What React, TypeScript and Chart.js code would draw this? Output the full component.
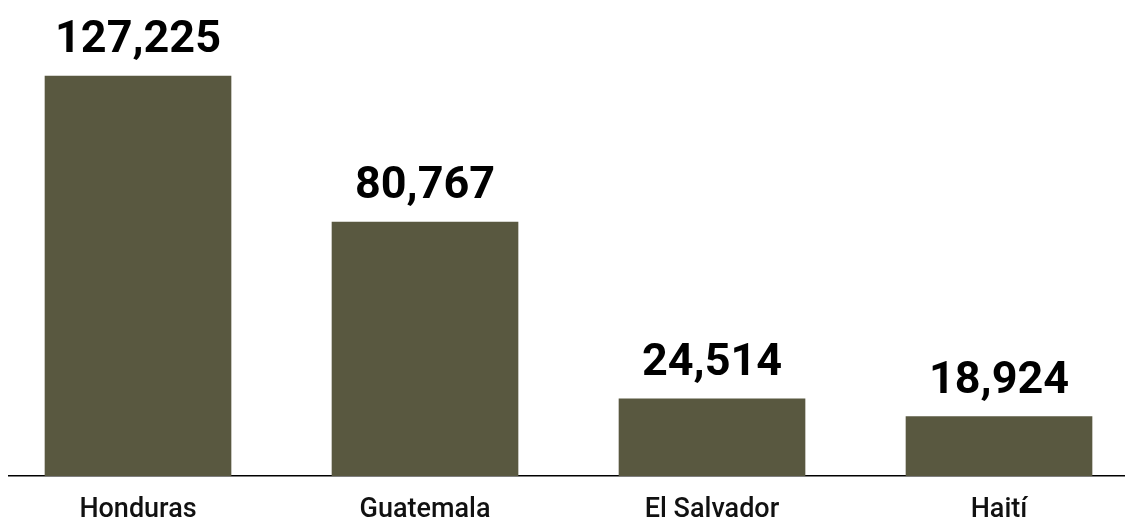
import React, { useEffect, useRef } from "react";
import { Chart, registerables } from "chart.js";

Chart.register(...registerables);

const categories: string[] = ["Honduras", "Guatemala", "El Salvador", "Haití"];
const values: number[] = [127225, 80767, 24514, 18924];

const BAR_COLOR = "#595840";

const valueLabels = {
  id: "valueLabels",
  afterDatasetsDraw(chart: any) {
    const ctx = chart.ctx;
    const meta = chart.getDatasetMeta(0);
    ctx.save();
    ctx.font = "700 45px Roboto";
    ctx.fillStyle = "#000";
    ctx.textAlign = "center";
    ctx.textBaseline = "alphabetic";
    meta.data.forEach((bar: any, i: number) => {
      ctx.fillText(values[i].toLocaleString("en-US"), bar.x, bar.y - 24);
    });
    ctx.restore();
  },
};

export default function App() {
  const ref = useRef<HTMLCanvasElement | null>(null);
  useEffect(() => {
    if (!ref.current) return;
    const chart = new Chart(ref.current, {
      type: "bar",
      data: {
        datasets: [
          {
            data: categories.map((c, i) => ({ x: i, y: values[i] })),
            backgroundColor: BAR_COLOR,
            barThickness: 186,
            borderWidth: 0,
          },
        ],
      },
      options: {
        animation: false,
        responsive: false,
        maintainAspectRatio: false,
        layout: { padding: { left: 9, right: 0, top: 0, bottom: 0 } },
        plugins: { legend: { display: false }, tooltip: { enabled: false } },
        scales: {
          x: {
            type: "linear",
            offset: false,
            min: -0.4495,
            max: 3.439,
            grid: { display: false, drawTicks: false, offset: false },
            border: { display: true, color: "#000", width: 1.5 },
            afterBuildTicks: (scale: any) => {
              scale.ticks = categories.map((_, i) => ({ value: i }));
            },
            afterFit: (scale: any) => {
              scale.height = 44;
            },
            ticks: {
              autoSkip: false,
              maxRotation: 0,
              padding: 18,
              color: "#111",
              font: { family: "Roboto", size: 27, weight: "500" },
              callback: (v: any) => categories[v as number] ?? "",
            },
          },
          y: {
            display: false,
            min: 0,
            max: 151400,
          },
        },
      },
      plugins: [valueLabels],
    });
    return () => chart.destroy();
  }, []);
  return (
    <div style={{ position: "fixed", left: 0, top: 0, width: 1125, height: 520, background: "#fff" }}>
      <canvas ref={ref} width={1125} height={520} style={{ display: "block" }} />
    </div>
  );
}
